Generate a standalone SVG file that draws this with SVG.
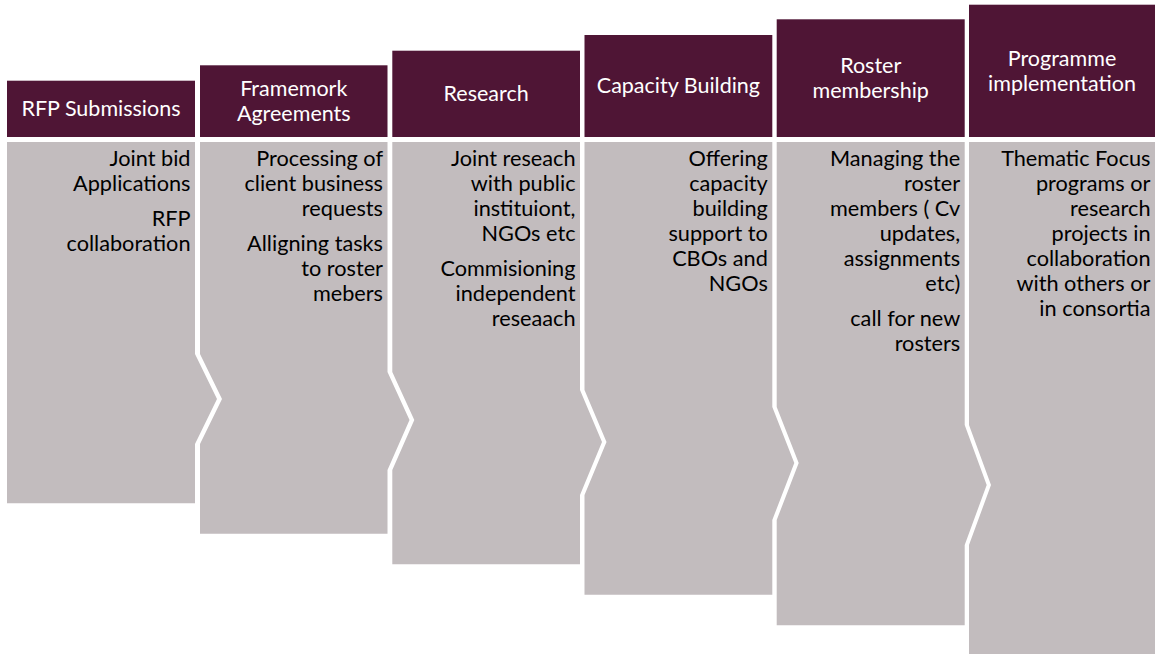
<svg xmlns="http://www.w3.org/2000/svg" width="1157" height="654" viewBox="0 0 1157 654">
<style>
.hdr{fill:#4F1535;}
.body{fill:#C2BCBE;}
.ht{font-family:Lato,"Liberation Sans",sans-serif;font-size:21.5px;fill:#FFFFFF;text-anchor:middle;}
.bt{font-family:Lato,"Liberation Sans",sans-serif;font-size:21.7px;fill:#000000;text-anchor:end;}
</style>
<rect width="1157" height="654" fill="#FFFFFF"/>
<g id="connectors"></g>
<g id="col1">
<rect class="hdr" x="7" y="80.7" width="188" height="56.3"/>
<path class="body" d="M7,142 H195 V354 L217,399 L195,444 V503.3 H7 Z"/>
<text class="ht" x="101" y="115.5">RFP Submissions</text>
<text class="bt"><tspan x="190.5" y="166">Joint bid</tspan><tspan x="190.5" y="191">Applications</tspan><tspan x="190.5" y="226">RFP</tspan><tspan x="190.5" y="251">collaboration</tspan></text>
</g>
<g id="col2">
<rect class="hdr" x="200" y="65.3" width="187.5" height="71.7"/>
<path class="body" d="M200,142 H387.5 V372 L409.5,420 L387.5,470 V533.8 H200 V444 L222,399 L200,354 Z"/>
<text class="ht"><tspan x="293.75" y="95.5">Framemork</tspan><tspan x="293.75" y="120.5">Agreements</tspan></text>
<text class="bt"><tspan x="383" y="166">Processing of</tspan><tspan x="383" y="191">client business</tspan><tspan x="383" y="216">requests</tspan><tspan x="383" y="251">Alligning tasks</tspan><tspan x="383" y="276">to roster</tspan><tspan x="383" y="301">mebers</tspan></text>
</g>
<g id="col3">
<rect class="hdr" x="392.3" y="50.7" width="187.7" height="86.3"/>
<path class="body" d="M392.3,142 H580 V390 L602,442 L580,495 V564.3 H392.3 V470 L414.3,420 L392.3,372 Z"/>
<text class="ht" x="486.15" y="100.5">Research</text>
<text class="bt"><tspan x="575.5" y="166">Joint reseach</tspan><tspan x="575.5" y="191">with public</tspan><tspan x="575.5" y="216">instituiont,</tspan><tspan x="575.5" y="241">NGOs etc</tspan><tspan x="575.5" y="276">Commisioning</tspan><tspan x="575.5" y="301">independent</tspan><tspan x="575.5" y="326">reseaach</tspan></text>
</g>
<g id="col4">
<rect class="hdr" x="584.5" y="35" width="187.8" height="102"/>
<path class="body" d="M584.5,142 H772.3 V407 L794.3,463 L772.3,520 V594.8 H584.5 V495 L606.5,442 L584.5,390 Z"/>
<text class="ht" x="678.4" y="92.5">Capacity Building</text>
<text class="bt"><tspan x="767.8" y="166">Offering</tspan><tspan x="767.8" y="191">capacity</tspan><tspan x="767.8" y="216">building</tspan><tspan x="767.8" y="241">support to</tspan><tspan x="767.8" y="266">CBOs and</tspan><tspan x="767.8" y="291">NGOs</tspan></text>
</g>
<g id="col5">
<rect class="hdr" x="776.7" y="19.3" width="188" height="117.7"/>
<path class="body" d="M776.7,142 H964.7 V425 L986.7,485 L964.7,545 V625.3 H776.7 V520 L798.7,463 L776.7,407 Z"/>
<text class="ht"><tspan x="870.7" y="73">Roster</tspan><tspan x="870.7" y="98">membership</tspan></text>
<text class="bt"><tspan x="960.2" y="166">Managing the</tspan><tspan x="960.2" y="191">roster</tspan><tspan x="960.2" y="216">members ( Cv</tspan><tspan x="960.2" y="241">updates,</tspan><tspan x="960.2" y="266">assignments</tspan><tspan x="960.2" y="291">etc)</tspan><tspan x="960.2" y="326">call for new</tspan><tspan x="960.2" y="351">rosters</tspan></text>
</g>
<g id="col6">
<rect class="hdr" x="969" y="4.7" width="186" height="132.3"/>
<path class="body" d="M969,142 H1155 V656 H969 V545 L991,485 L969,425 Z"/>
<text class="ht"><tspan x="1062" y="66">Programme</tspan><tspan x="1062" y="90.5">implementation</tspan></text>
<text class="bt"><tspan x="1150.5" y="166">Thematic Focus</tspan><tspan x="1150.5" y="191">programs or</tspan><tspan x="1150.5" y="216">research</tspan><tspan x="1150.5" y="241">projects in</tspan><tspan x="1150.5" y="266">collaboration</tspan><tspan x="1150.5" y="291">with others or</tspan><tspan x="1150.5" y="316">in consortia</tspan></text>
</g>
</svg>
